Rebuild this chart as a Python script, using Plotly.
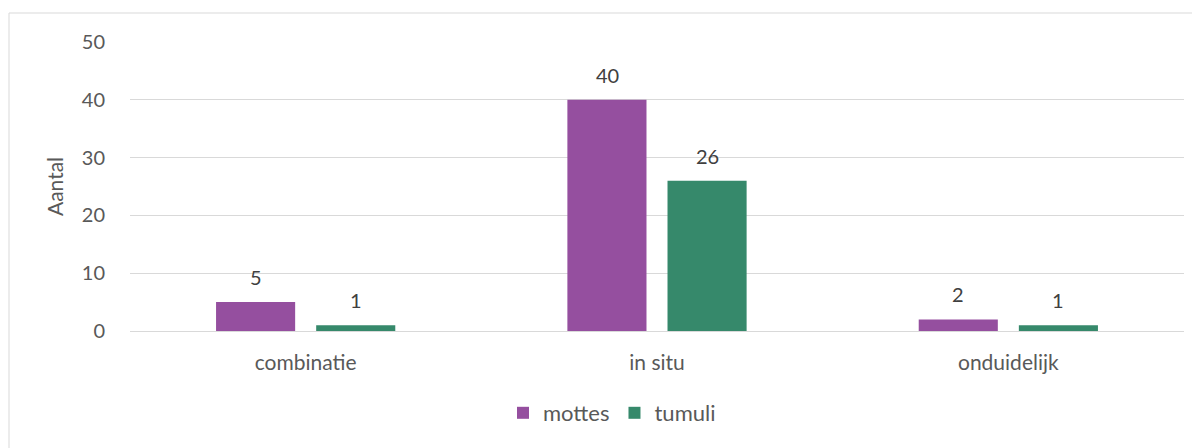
import plotly.graph_objects as go

categories = ["combinatie", "in situ", "onduidelijk"]
mottes = [5, 40, 2]
tumuli = [1, 26, 1]

PURPLE = "#954F9F"
GREEN = "#36896B"
TEXT = "#595959"
FONT = "Lato, Open Sans, sans-serif"

# page body has an 8px margin, so the figure is 8px smaller than the window
W, H = 1192, 440
L, R, T, B = 122, 16, 34, 117
plot_w = W - L - R
plot_h = H - T - B

fig = go.Figure()
fig.add_trace(go.Bar(x=categories, y=mottes, name="mottes", marker=dict(color=PURPLE, line_width=0)))
fig.add_trace(go.Bar(x=categories, y=tumuli, name="tumuli", marker=dict(color=GREEN, line_width=0)))

# data labels above bars
for vals, shift in ((mottes, -50), (tumuli, 50)):
    for c, v in zip(categories, vals):
        fig.add_annotation(x=c, y=v, text=str(v), showarrow=False, xshift=shift,
                           yanchor="bottom", yshift=11,
                           font=dict(family=FONT, size=20, color="#404040"))

# chart border (Excel style)
fig.add_shape(type="rect", xref="paper", yref="paper",
              x0=(1 - L) / plot_w, x1=1.05, y0=-0.6, y1=(H - B - 5) / plot_h,
              line=dict(color="#D9D9D9", width=1), fillcolor="rgba(0,0,0,0)")

fig.update_layout(
    width=W, height=H,
    margin=dict(l=L, r=R, t=T, b=B),
    paper_bgcolor="white", plot_bgcolor="white",
    barmode="group", bargap=0.43, bargroupgap=0.21,
    font=dict(family=FONT, size=20, color=TEXT),
    showlegend=True,
    legend=dict(orientation="h", x=(495 - L) / plot_w, xanchor="left",
                y=(H - B - 405) / plot_h, yanchor="middle",
                font=dict(family=FONT, size=22, color=TEXT), itemwidth=30,
                traceorder="normal"),
    xaxis=dict(showgrid=False, showline=False, ticks="", ticklabelstandoff=17,
               tickfont=dict(family=FONT, size=21, color=TEXT)),
    yaxis=dict(range=[0, 50], dtick=10, showgrid=True, gridcolor="#D9D9D9", gridwidth=1,
               zeroline=True, zerolinecolor="#D9D9D9", zerolinewidth=1,
               ticklabelstandoff=24, ticks="",
               tickfont=dict(family=FONT, size=20, color=TEXT),
               title=dict(text="Aantal", standoff=12, font=dict(family=FONT, size=21, color=TEXT))),
)

fig.write_html("out.html")
